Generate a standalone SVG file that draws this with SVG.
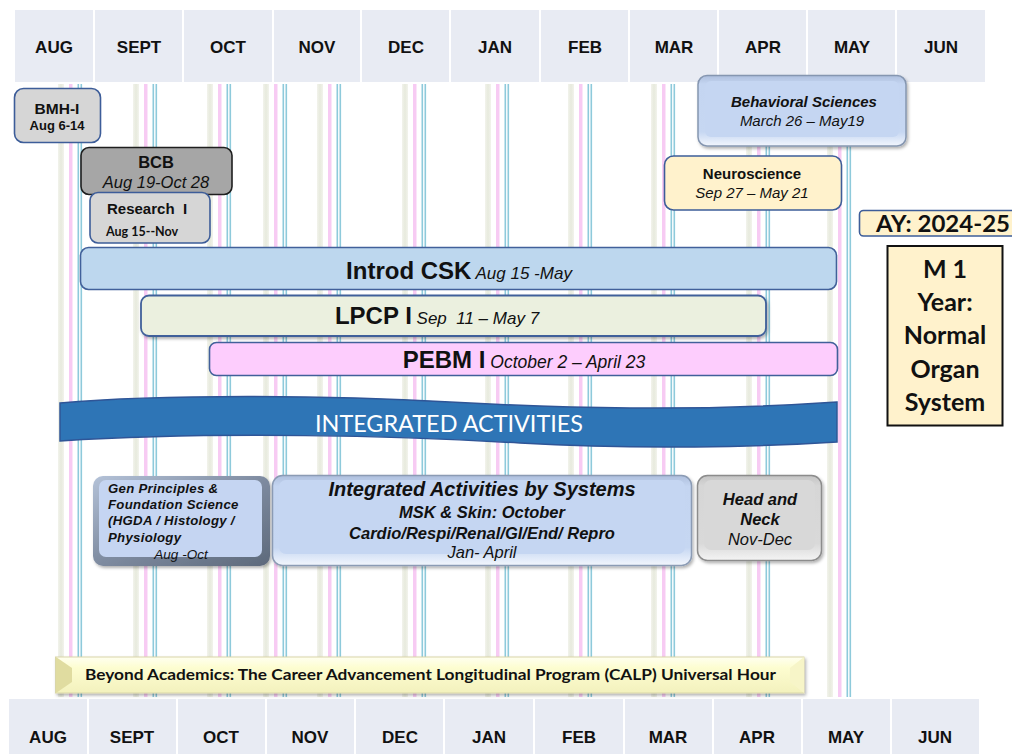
<svg xmlns="http://www.w3.org/2000/svg" width="1012" height="754" viewBox="0 0 1012 754">
<style>
.hc{fill:#e8ebf3}
.ml{font-family:'Liberation Sans',Arial,sans-serif;font-weight:bold;font-size:17px;fill:#111;text-anchor:middle}
.a{font-family:'Liberation Sans',Arial,sans-serif;fill:#111}
.b{font-weight:bold}
.i{font-style:italic}
.c{text-anchor:middle}
.cal{font-family:Lato,'Open Sans',sans-serif}
.box{stroke:#3d5d99;stroke-width:1.6}
</style>
<defs>
<filter id="sh" x="-10%" y="-20%" width="130%" height="160%">
<feDropShadow dx="1.5" dy="2" stdDeviation="1.5" flood-color="#000" flood-opacity="0.3"/>
</filter>
<linearGradient id="gBlue" x1="0" y1="0" x2="0" y2="1">
<stop offset="0" stop-color="#aebfdd"/>
<stop offset="0.12" stop-color="#c4d5f1"/>
<stop offset="0.8" stop-color="#c6d7f2"/>
<stop offset="1" stop-color="#f2f6fd"/>
</linearGradient>
<linearGradient id="gGray" x1="0" y1="0" x2="0" y2="1">
<stop offset="0" stop-color="#c4c4c4"/>
<stop offset="0.12" stop-color="#d6d6d6"/>
<stop offset="0.8" stop-color="#d9d9d9"/>
<stop offset="1" stop-color="#f4f4f4"/>
</linearGradient>
<linearGradient id="gDark" x1="0" y1="0" x2="1" y2="1">
<stop offset="0" stop-color="#b4c2d8"/>
<stop offset="0.5" stop-color="#7e8ba0"/>
<stop offset="1" stop-color="#5d697b"/>
</linearGradient>
<linearGradient id="gYel" x1="0" y1="0" x2="0" y2="1">
<stop offset="0" stop-color="#fffff0"/>
<stop offset="0.3" stop-color="#fdfdd0"/>
<stop offset="1" stop-color="#f3f1bd"/>
</linearGradient>
<linearGradient id="gVl" x1="0" y1="0" x2="1" y2="0">
<stop offset="0" stop-color="#f2f3ec"/>
<stop offset="0.5" stop-color="#e7eadd"/>
<stop offset="1" stop-color="#f2f3ec"/>
</linearGradient>
<g id="vl">
<rect x="0" y="0" width="6" height="613" fill="url(#gVl)"/>
<rect x="11" y="0" width="3.5" height="613" fill="#f7cbf3"/>
<rect x="19.5" y="0" width="1.6" height="613" fill="#8ecadb"/>
<rect x="22.5" y="0" width="1.6" height="613" fill="#8ecadb"/>
</g>
</defs>
<rect width="1012" height="754" fill="#ffffff"/>

<g id="grid-lines">
<use href="#vl" x="58" y="84"/>
<use href="#vl" x="133" y="84"/>
<use href="#vl" x="207" y="84"/>
<use href="#vl" x="263" y="84"/>
<use href="#vl" x="317" y="84"/>
<use href="#vl" x="402" y="84"/>
<use href="#vl" x="485" y="84"/>
<use href="#vl" x="568" y="84"/>
<use href="#vl" x="651" y="84"/>
<use href="#vl" x="746" y="84"/>
<use href="#vl" x="827" y="84"/>
</g>

<g id="header-top">
<rect class="hc" x="15" y="10" width="78" height="72"/>
<rect class="hc" x="95" y="10" width="87" height="72"/>
<rect class="hc" x="184" y="10" width="88" height="72"/>
<rect class="hc" x="274" y="10" width="86" height="72"/>
<rect class="hc" x="362" y="10" width="87" height="72"/>
<rect class="hc" x="451" y="10" width="88" height="72"/>
<rect class="hc" x="541" y="10" width="87" height="72"/>
<rect class="hc" x="630" y="10" width="87" height="72"/>
<rect class="hc" x="719" y="10" width="87" height="72"/>
<rect class="hc" x="808" y="10" width="87" height="72"/>
<rect class="hc" x="897" y="10" width="88" height="72"/>
<text class="ml" x="54" y="53">AUG</text>
<text class="ml" x="139" y="53">SEPT</text>
<text class="ml" x="228" y="53">OCT</text>
<text class="ml" x="317" y="53">NOV</text>
<text class="ml" x="406" y="53">DEC</text>
<text class="ml" x="495" y="53">JAN</text>
<text class="ml" x="585" y="53">FEB</text>
<text class="ml" x="674" y="53">MAR</text>
<text class="ml" x="763" y="53">APR</text>
<text class="ml" x="852" y="53">MAY</text>
<text class="ml" x="941" y="53">JUN</text>
</g>

<g id="header-bottom">
<rect class="hc" x="9" y="699" width="78" height="55"/>
<rect class="hc" x="89" y="699" width="87" height="55"/>
<rect class="hc" x="178" y="699" width="87" height="55"/>
<rect class="hc" x="267" y="699" width="87" height="55"/>
<rect class="hc" x="356" y="699" width="87" height="55"/>
<rect class="hc" x="445" y="699" width="88" height="55"/>
<rect class="hc" x="535" y="699" width="88" height="55"/>
<rect class="hc" x="625" y="699" width="87" height="55"/>
<rect class="hc" x="714" y="699" width="87" height="55"/>
<rect class="hc" x="803" y="699" width="87" height="55"/>
<rect class="hc" x="892" y="699" width="87" height="55"/>
<text class="ml" x="48" y="743">AUG</text>
<text class="ml" x="132" y="743">SEPT</text>
<text class="ml" x="221" y="743">OCT</text>
<text class="ml" x="310" y="743">NOV</text>
<text class="ml" x="400" y="743">DEC</text>
<text class="ml" x="489" y="743">JAN</text>
<text class="ml" x="579" y="743">FEB</text>
<text class="ml" x="668" y="743">MAR</text>
<text class="ml" x="757" y="743">APR</text>
<text class="ml" x="846" y="743">MAY</text>
<text class="ml" x="935" y="743">JUN</text>
</g>

<g id="connectors"></g>

<g id="bmh">
<rect class="box" x="14.5" y="88.5" width="86" height="54" rx="9" fill="#d6d6d6"/>
<text class="a b c" x="57" y="114" font-size="15.5">BMH-I</text>
<text class="a b c" x="57" y="130" font-size="13">Aug 6-14</text>
</g>

<g id="bcb">
<rect x="81" y="147.5" width="151" height="47" rx="8" fill="#a6a6a6" stroke="#1f1f1f" stroke-width="1.6"/>
<text class="a b c" x="156" y="168" font-size="16.5">BCB</text>
<text class="a i c" x="156" y="188" font-size="16.5">Aug 19-Oct 28</text>
</g>

<g id="research">
<rect class="box" x="90" y="192.5" width="120" height="50.5" rx="8" fill="#d6d6d6"/>
<text class="a b" x="107" y="214" font-size="15" xml:space="preserve">Research  I</text>
<text class="cal b" x="106" y="236" font-size="12.5" fill="#111">Aug 15--Nov</text>
</g>

<g id="behavioral">
<rect x="698" y="75.5" width="208" height="70.5" rx="9" fill="url(#gBlue)" stroke="#8596b0" stroke-width="1.5" filter="url(#sh)"/>
<rect x="705" y="81" width="194" height="56" rx="6" fill="#c5d6f2"/>
<text class="a b i c" x="804" y="107" font-size="15" fill="#1a1a1a">Behavioral Sciences</text>
<text class="a i c" x="802" y="126" font-size="15" fill="#222">March 26 – May19</text>
</g>

<g id="neuroscience">
<rect class="box" x="664.5" y="156" width="177" height="54" rx="9" fill="#fff2cc"/>
<text class="a b c" x="752" y="179" font-size="15">Neuroscience</text>
<text class="a i c" x="752" y="198" font-size="15">Sep 27 – May 21</text>
</g>

<g id="ay">
<rect class="box" x="859.5" y="210.5" width="160" height="25.5" rx="4" fill="#fff2cc"/>
<text class="cal b" x="876" y="232" font-size="23" fill="#111" textLength="134" lengthAdjust="spacingAndGlyphs">AY: 2024-25</text>
</g>

<g id="m1year">
<rect x="887.5" y="246" width="115" height="179.5" fill="#fff2cc" stroke="#111" stroke-width="2"/>
<g class="cal b c" font-size="25" fill="#111">
<text x="945" y="278">M 1</text>
<text x="945" y="311">Year:</text>
<text x="945" y="344">Normal</text>
<text x="945" y="378">Organ</text>
<text x="945" y="411">System</text>
</g>
</g>

<g id="introd-csk">
<rect x="80.5" y="247.5" width="756" height="42" rx="8" fill="#bdd7ee" stroke="#41609a" stroke-width="1.6"/>
<text class="a c" x="459" y="279"><tspan class="b" font-size="24">Introd CSK</tspan><tspan class="i" font-size="17"> Aug 15 -May</tspan></text>
</g>

<g id="lpcp">
<rect x="141" y="295.5" width="625" height="40.5" rx="8" fill="#ebf0df" stroke="#41609a" stroke-width="1.8" filter="url(#sh)"/>
<text class="a c" x="437" y="324" xml:space="preserve"><tspan class="b" font-size="24">LPCP I</tspan><tspan class="i" font-size="17"> Sep  11 – May 7</tspan></text>
</g>

<g id="pebm">
<rect x="209.5" y="342.5" width="628" height="33" rx="7" fill="#fdcdfd" stroke="#41609a" stroke-width="1.6"/>
<text class="a c" x="524" y="368"><tspan class="b" font-size="24">PEBM I</tspan><tspan class="i" font-size="17.5"> October 2 – April 23</tspan></text>
</g>

<g id="integrated-activities">
<path d="M60,403 C160,394 330,395 450,402 C560,408 690,412 837,402 L837,442 C760,447 640,450 520,443 C400,436 220,431 60,441 Z" fill="#2e75b6" stroke="#2f5597" stroke-width="1.5"/>
<text class="cal c" x="449" y="432" font-size="24" fill="#ffffff" textLength="268" lengthAdjust="spacingAndGlyphs">INTEGRATED ACTIVITIES</text>
</g>

<g id="gen-principles">
<rect x="93" y="476" width="177" height="90" rx="10" fill="url(#gDark)" filter="url(#sh)"/>
<rect x="99" y="480" width="163" height="77" rx="7" fill="#c5d5f2"/>
<g class="a b i" font-size="13.2" fill="#111" letter-spacing="0.3">
<text x="108" y="493">Gen Principles &amp;</text>
<text x="108" y="509">Foundation Science</text>
<text x="108" y="525">(HGDA / Histology /</text>
<text x="108" y="542">Physiology</text>
</g>
<text class="a i c" x="181" y="559" font-size="13.5" fill="#222">Aug -Oct</text>
</g>

<g id="ia-systems">
<rect x="272.5" y="475.5" width="419" height="90" rx="10" fill="url(#gBlue)" stroke="#8b9bb4" stroke-width="1.5" filter="url(#sh)"/>
<rect x="279" y="480" width="406" height="74" rx="7" fill="#c5d6f2"/>
<text class="a b i c" x="482" y="496" font-size="20">Integrated Activities by Systems</text>
<text class="a b i c" x="482" y="518" font-size="16.5">MSK &amp; Skin: October</text>
<text class="a b i c" x="482" y="539" font-size="16.5">Cardio/Respi/Renal/GI/End/ Repro</text>
<text class="a i c" x="482" y="558" font-size="16.5">Jan- April</text>
</g>

<g id="head-neck">
<rect x="697.5" y="475.5" width="124" height="85" rx="10" fill="url(#gGray)" stroke="#8c8c8c" stroke-width="1.5" filter="url(#sh)"/>
<rect x="704" y="480" width="111" height="70" rx="7" fill="#d8d8d8"/>
<text class="a b i c" x="760" y="505" font-size="16.5">Head and</text>
<text class="a b i c" x="760" y="525" font-size="16.5">Neck</text>
<text class="a i c" x="760" y="545" font-size="16.5">Nov-Dec</text>
</g>

<g id="beyond-academics">
<rect x="55.5" y="657" width="748.5" height="36" fill="url(#gYel)" stroke="#d9d6a8" stroke-width="1" filter="url(#sh)"/>
<path d="M56,657 L72,668 L72,682 L56,693 Z" fill="#e0dca0"/>
<path d="M804,657 L790,668 L790,682 L804,693 Z" fill="#f7f5c8"/>
<text class="cal b" x="85" y="680" font-size="15.5" fill="#111" textLength="691" lengthAdjust="spacingAndGlyphs">Beyond Academics: The Career Advancement Longitudinal Program (CALP) Universal Hour</text>
</g>
</svg>
